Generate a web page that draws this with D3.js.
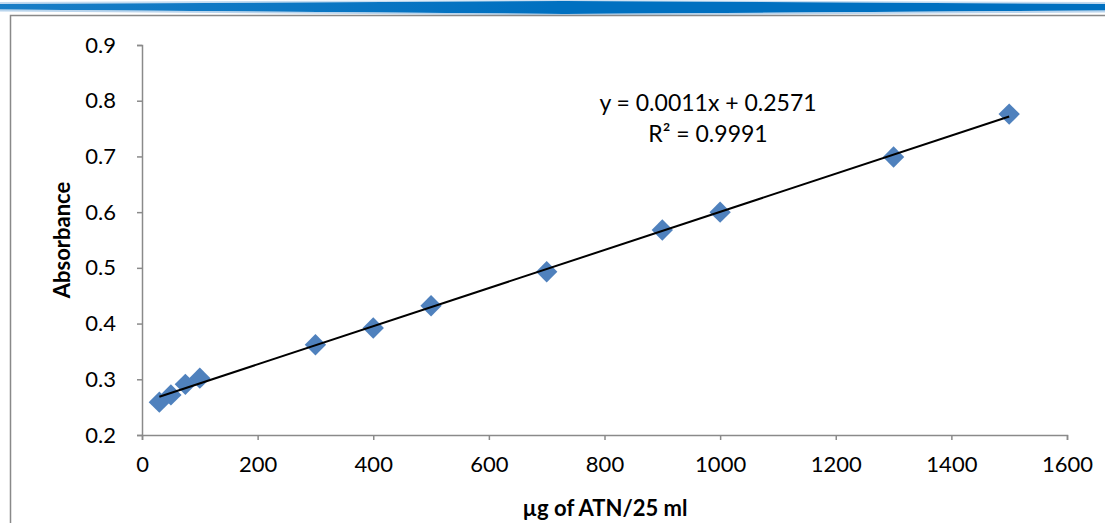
<!DOCTYPE html>
<html><head><meta charset="utf-8">
<script src="https://cdn.jsdelivr.net/npm/d3@7"></script>
<style>body{margin:0;background:#fff}svg{display:block}text{font-family:Lato,"Open Sans",sans-serif}</style>
</head><body><svg id="c" width="1105" height="523"></svg>
<script>
const concentrations = [30, 50, 75, 100, 300, 400, 500, 700, 900, 1000, 1300, 1500];
const absorbance = [0.259, 0.272, 0.291, 0.302, 0.362, 0.392, 0.432, 0.493, 0.568, 0.600, 0.699, 0.776];
const xTicks = [0, 200, 400, 600, 800, 1000, 1200, 1400, 1600];
const yTicks = [0.2, 0.3, 0.4, 0.5, 0.6, 0.7, 0.8, 0.9];
const equationLines = ["y = 0.0011x + 0.2571", "R\u00b2 = 0.9991"];
const xTitle = "\u00b5g of ATN/25 ml";
const yTitle = "Absorbance";

const svg = d3.select("#c");
// decorative top band
const defs = svg.append("defs");
const g1 = defs.append("linearGradient").attr("id","band").attr("x1","0").attr("x2","1");
g1.append("stop").attr("offset","0").attr("stop-color","#0070C0").attr("stop-opacity",0.9);
g1.append("stop").attr("offset","0.5").attr("stop-color","#0070C0");
g1.append("stop").attr("offset","1").attr("stop-color","#0070C0").attr("stop-opacity",1);
svg.append("path").attr("d","M0,2 L564,0 L1105,2 L1105,4 L564,1 L0,4 Z").attr("fill","#9CC3E6").attr("opacity",0.6);
svg.append("path").attr("d","M0,4 L564,1 L1105,4 L1105,10.5 L564,14 L0,9.5 Z").attr("fill","url(#band)");
svg.append("path").attr("d","M0,9.5 L564,14 L1105,10.5 L1105,12.5 L564,15.5 L0,11.5 Z").attr("fill","#9CC3E6").attr("opacity",0.7);

// chart border
svg.append("rect").attr("x",10.5).attr("y",15.5).attr("width",1200).attr("height",600)
  .attr("fill","none").attr("stroke","#898989").attr("stroke-width",1.5);

const x = d3.scaleLinear().domain([0,1600]).range([142,1067]);
const y = d3.scaleLinear().domain([0.2,0.9]).range([435,45]);

const axisColor = "#8a8a8a";
const xa = svg.append("g").attr("transform","translate(0,435)")
  .call(d3.axisBottom(x).tickValues(xTicks).tickSize(5).tickPadding(16).tickFormat(d3.format("d")));
const ya = svg.append("g").attr("transform","translate(142,0)")
  .call(d3.axisLeft(y).tickValues(yTicks).tickSize(5).tickPadding(21).tickFormat(d3.format(".1f")));
[xa,ya].forEach(a=>{
  a.select(".domain").attr("stroke",axisColor).attr("stroke-width",1.5);
  a.selectAll(".tick line").attr("stroke",axisColor).attr("stroke-width",1.5);
  a.selectAll("text").attr("fill","#000").style("font-size","22px").style("font-family","Lato,'Open Sans',sans-serif");
});

// least squares trendline
const n = concentrations.length;
const mx = d3.mean(concentrations), my = d3.mean(absorbance);
let sxy=0, sxx=0;
for(let i=0;i<n;i++){sxy+=(concentrations[i]-mx)*(absorbance[i]-my);sxx+=(concentrations[i]-mx)**2;}
const slope = sxy/sxx, icpt = my - slope*mx;
const x0 = d3.min(concentrations), x1 = d3.max(concentrations);

svg.append("g").selectAll("path").data(concentrations).join("path")
  .attr("d",d3.symbol().type(d3.symbolDiamond2).size(290))
  .attr("transform",(d,i)=>`translate(${x(d)},${y(absorbance[i])})`)
  .attr("fill","#4F81BD");

svg.append("line").attr("x1",x(x0)).attr("y1",y(slope*x0+icpt)).attr("x2",x(x1)).attr("y2",y(slope*x1+icpt))
  .attr("stroke","#000").attr("stroke-width",2);

svg.append("g").selectAll("text").data(equationLines).join("text")
  .attr("x",708).attr("y",(d,i)=>111+i*31).attr("text-anchor","middle")
  .style("font-size","23px").text(d=>d);

svg.append("text").attr("x",605).attr("y",516).attr("text-anchor","middle")
  .style("font-size","22px").style("font-weight","bold").text(xTitle);
svg.append("text").attr("transform","translate(70,240) rotate(-90)").attr("text-anchor","middle")
  .style("font-size","22px").style("font-weight","bold").text(yTitle);
</script></body></html>
